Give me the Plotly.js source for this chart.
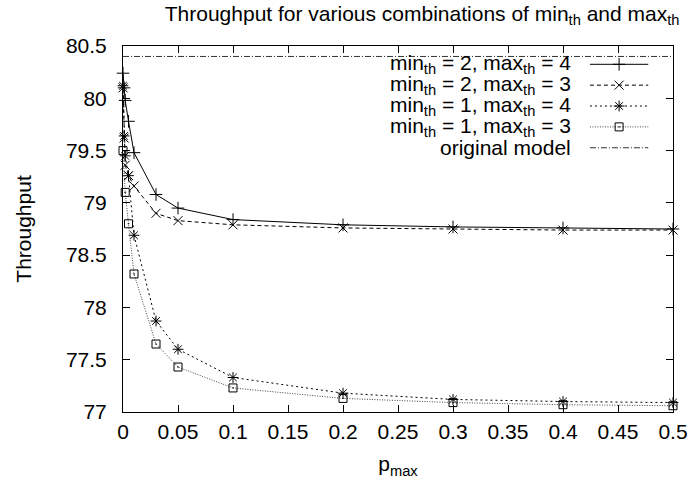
<!DOCTYPE html>
<html>
<head>
<meta charset="utf-8">
<script src="https://cdn.plot.ly/plotly-3.0.1.min.js"></script>
<style>html,body{margin:0;padding:0;background:#fff;}#chart{width:692px;height:486px;}</style>
</head>
<body>
<div id="chart"></div>
<script>
// ---- data ----
var x1 = [0, 0.001, 0.002, 0.005, 0.01, 0.03, 0.05, 0.1, 0.2, 0.3, 0.4, 0.5];
var y1 = [80.24, 80.10, 79.98, 79.78, 79.48, 79.08, 78.95, 78.84, 78.79, 78.77, 78.76, 78.75];
var x2 = [0, 0.001, 0.002, 0.005, 0.01, 0.03, 0.05, 0.1, 0.2, 0.3, 0.4, 0.5];
var y2 = [80.10, 79.62, 79.36, 79.26, 79.16, 78.90, 78.83, 78.79, 78.76, 78.75, 78.74, 78.74];
var x3 = [0, 0.001, 0.002, 0.005, 0.01, 0.03, 0.05, 0.1, 0.2, 0.3, 0.4, 0.5];
var y3 = [80.12, 79.64, 79.45, 79.26, 78.69, 77.87, 77.60, 77.33, 77.18, 77.12, 77.10, 77.09];
var x4 = [0, 0.002, 0.005, 0.01, 0.03, 0.05, 0.1, 0.2, 0.3, 0.4, 0.5];
var y4 = [79.50, 79.10, 78.80, 78.32, 77.65, 77.43, 77.23, 77.13, 77.09, 77.07, 77.06];
var xOrig = [0, 0.5];
var yOrig = [80.40, 80.40];
var seriesNames = [
  "min<sub>th</sub> = 2, max<sub>th</sub> = 4",
  "min<sub>th</sub> = 2, max<sub>th</sub> = 3",
  "min<sub>th</sub> = 1, max<sub>th</sub> = 4",
  "min<sub>th</sub> = 1, max<sub>th</sub> = 3",
  "original model"
];
var xTicks = [0, 0.05, 0.1, 0.15, 0.2, 0.25, 0.3, 0.35, 0.4, 0.45, 0.5];
var yTicks = [77, 77.5, 78, 78.5, 79, 79.5, 80, 80.5];

// ---- styles ----
var FONT = "Liberation Sans, Arial, Helvetica, sans-serif";
var FS = 21;
var styles = [
  {dash: "solid", symbol: "cross-thin-open", size: 9, color: "#000"},
  {dash: "4px,3px", symbol: "x-thin-open", size: 9, color: "#000"},
  {dash: "2px,3px", symbol: "asterisk-open", size: 9, color: "#000"},
  {dash: "1px,1.5px", symbol: "square-open-dot", size: 8, color: "#444"},
  {dash: "6px,2px,1px,2px", symbol: null, size: 0, color: "#333"}
];
var xs = [x1, x2, x3, x4, xOrig];
var ys = [y1, y2, y3, y4, yOrig];

function markerFor(s) {
  return {symbol: s.symbol, size: s.size, color: "#000", line: {color: "#000", width: 1}};
}

var traces = [];
for (var i = 0; i < 5; i++) {
  var s = styles[i];
  var t = {
    type: "scatter",
    x: xs[i], y: ys[i],
    mode: s.symbol ? "lines+markers" : "lines",
    name: seriesNames[i],
    line: {color: s.color, width: 1, dash: s.dash},
    cliponaxis: false,
    showlegend: false
  };
  if (s.symbol) t.marker = markerFor(s);
  traces.push(t);
}

// gnuplot-style key: text right-aligned, sample on the right (hidden overlay axes)
var keyRows = [0.950, 0.893, 0.836, 0.779, 0.722];
var sampleX0 = 0.849, sampleX1 = 0.955, sampleXm = 0.902;
var annotations = [];
for (var j = 0; j < 5; j++) {
  var st = styles[j];
  traces.push({
    type: "scatter", xaxis: "x2", yaxis: "y2",
    x: [sampleX0, sampleX1], y: [keyRows[j], keyRows[j]],
    mode: "lines", line: {color: st.color, width: 1, dash: st.dash},
    hoverinfo: "skip", showlegend: false
  });
  if (st.symbol) {
    traces.push({
      type: "scatter", xaxis: "x2", yaxis: "y2",
      x: [sampleXm], y: [keyRows[j]],
      mode: "markers",
      marker: markerFor(st),
      hoverinfo: "skip", showlegend: false
    });
  }
  annotations.push({
    xref: "paper", yref: "paper", x: 0.818, y: keyRows[j],
    xanchor: "right", yanchor: "middle", showarrow: false,
    text: seriesNames[j], font: {family: FONT, size: FS, color: "#000"}
  });
}

var layout = {
  width: 692, height: 486,
  margin: {l: 123, r: 19, t: 46, b: 74},
  paper_bgcolor: "#fff", plot_bgcolor: "#fff",
  font: {family: FONT, size: FS, color: "#000"},
  title: {
    text: "Throughput for various combinations of min<sub>th</sub> and max<sub>th</sub>",
    x: 0.61, xanchor: "center", y: 0.972, yanchor: "middle",
    font: {family: FONT, size: FS, color: "#000"}
  },
  xaxis: {
    range: [0, 0.5], tickvals: xTicks, ticks: "inside", ticklen: 7, tickcolor: "#000",
    showline: true, linecolor: "#000", linewidth: 1, mirror: "ticks",
    showgrid: false, zeroline: false, ticklabelstandoff: 1,
    title: {text: "p<sub>max</sub>", standoff: 14, font: {family: FONT, size: FS}}
  },
  yaxis: {
    range: [77, 80.5], tickvals: yTicks, ticks: "inside", ticklen: 7, tickcolor: "#000",
    showline: true, linecolor: "#000", linewidth: 1, mirror: "ticks",
    showgrid: false, zeroline: false, ticklabelstandoff: 11,
    title: {text: "Throughput", standoff: 28, font: {family: FONT, size: FS}}
  },
  xaxis2: {overlaying: "x", range: [0, 1], visible: false, fixedrange: true},
  yaxis2: {overlaying: "y", range: [0, 1], visible: false, fixedrange: true},
  annotations: annotations,
  showlegend: false
};

Plotly.newPlot("chart", traces, layout, {displayModeBar: false, staticPlot: true});
</script>
</body>
</html>
